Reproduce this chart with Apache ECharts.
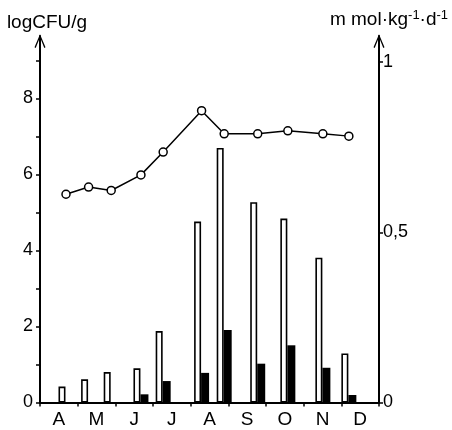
<!DOCTYPE html>
<html>
<head>
<meta charset="utf-8">
<script src="https://cdn.jsdelivr.net/npm/echarts@6/dist/echarts.min.js"></script>
<style>
html,body{margin:0;padding:0;background:#fff;}
#chart{width:452px;height:430px;}
</style>
</head>
<body>
<div id="chart"></div>
<script>
// Month labels (April .. December)
var months = ['A', 'M', 'J', 'J', 'A', 'S', 'O', 'N', 'D'];
// Sampling positions, in months from 1 April
var samplePos = [0.69, 1.29, 1.89, 2.68, 3.27, 4.29, 4.89, 5.78, 6.58, 7.51, 8.20];
// Line (logCFU/g)
var lineValues = [5.48, 5.67, 5.58, 5.99, 6.59, 7.68, 7.07, 7.07, 7.15, 7.07, 7.01];
// Open bars (logCFU/g)
var openBars = [0.42, 0.61, 0.80, 0.90, 1.88, 4.76, 6.70, 5.27, 4.84, 3.81, 1.29];
// Black bars (mmol·kg-1·d-1)
var blackBars = [null, null, null, 0.024, 0.063, 0.087, 0.213, 0.114, 0.168, 0.102, 0.022];
// Tick labels
var leftTicks = [0, 1, 2, 3, 4, 5, 6, 7, 8, 9];
var leftLabels = [0, 2, 4, 6, 8];
var rightTicks = [0, 0.5, 1];

function pairs(xs, ys) {
  return xs.map(function (x, i) { return [x, ys[i]]; });
}

var FONT = '"Liberation Sans", Arial, Helvetica, sans-serif';
var arrow = 'path://M0,12 L5,0 L10,12 L8.9,12.5 L5,2.8 L1.1,12.5 Z';

var chart = echarts.init(document.getElementById('chart'));
chart.setOption({
  animation: false,
  backgroundColor: '#fff',
  textStyle: { fontFamily: FONT, color: '#000' },
  grid: { left: 40, right: 73, top: 36, bottom: 27.5, containLabel: false },
  xAxis: [
    {
      type: 'value', min: 0, max: 9, interval: 1, position: 'bottom',
      axisLine: { lineStyle: { color: '#000', width: 2 } },
      axisTick: { show: true, inside: false, length: 4, lineStyle: { color: '#000', width: 1.5 } },
      axisLabel: { show: false },
      splitLine: { show: false }
    },
    {
      type: 'category', data: months, boundaryGap: true, position: 'bottom',
      axisLine: { show: false }, axisTick: { show: false },
      axisLabel: { fontFamily: FONT, fontSize: 19, color: '#000', margin: 8 },
      splitLine: { show: false }
    }
  ],
  yAxis: [
    {
      type: 'value', min: 0, max: 9.645, interval: 1, position: 'left',
      name: 'logCFU/g', nameLocation: 'end', nameGap: 4,
      nameTextStyle: { fontFamily: FONT, fontSize: 19, color: '#000', align: 'center', padding: [0, 0, 0, 14] },
      axisLine: { show: true, lineStyle: { color: '#000', width: 2 }, symbol: ['none', arrow], symbolSize: [11, 14], symbolOffset: [0, -5] },
      axisTick: { show: true, length: 4, customValues: leftTicks, lineStyle: { color: '#000', width: 1.5 } },
      axisLabel: { customValues: leftLabels, fontFamily: FONT, fontSize: 18, color: '#000', margin: 7, padding: [0, 0, 6, 0] },
      splitLine: { show: false }
    },
    {
      type: 'value', min: 0, max: 1.0764, position: 'right',
      name: 'm mol·kg{s|-1}·d{s|-1}', nameLocation: 'end', nameGap: 6,
      nameTextStyle: {
        fontFamily: FONT, fontSize: 19, color: '#000', align: 'center', padding: [0, 0, 0, 20],
        rich: { s: { fontFamily: FONT, fontSize: 13, color: '#000', verticalAlign: 'top', padding: [0, 0, 8, 0] } }
      },
      axisLine: { show: true, lineStyle: { color: '#000', width: 2 }, symbol: ['none', arrow], symbolSize: [11, 14], symbolOffset: [0, -5] },
      axisTick: { show: true, length: 4, customValues: rightTicks, lineStyle: { color: '#000', width: 1.5 } },
      axisLabel: {
        customValues: rightTicks, fontFamily: FONT, fontSize: 18, color: '#000', margin: 4, padding: [0, 0, 6, 0],
        formatter: function (v) { return String(v).replace('.', ','); }
      },
      splitLine: { show: false }
    }
  ],
  series: [
    {
      type: 'bar', xAxisIndex: 0, yAxisIndex: 0, data: pairs(samplePos, openBars),
      barWidth: 7, barGap: '0%',
      itemStyle: { color: '#fff', borderColor: '#000', borderWidth: 1.6 }
    },
    {
      type: 'bar', xAxisIndex: 0, yAxisIndex: 1, data: pairs(samplePos, blackBars),
      barWidth: 8, barGap: '0%',
      itemStyle: { color: '#000', borderWidth: 0 }
    },
    {
      type: 'line', xAxisIndex: 0, yAxisIndex: 0, data: pairs(samplePos, lineValues),
      symbol: 'circle', symbolSize: 8, z: 5,
      lineStyle: { color: '#000', width: 1.5 },
      itemStyle: { color: '#fff', borderColor: '#000', borderWidth: 1.5 }
    }
  ]
});
</script>
</body>
</html>
